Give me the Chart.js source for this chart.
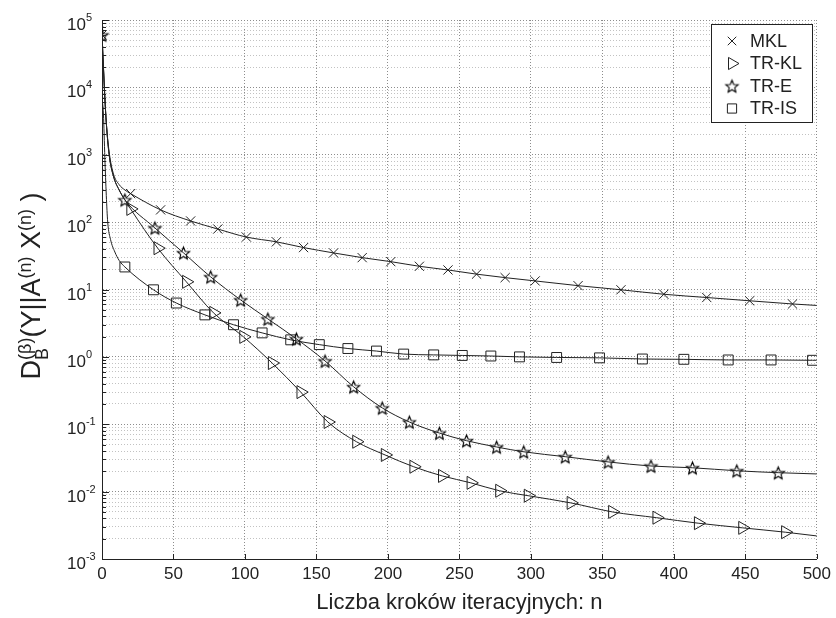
<!DOCTYPE html>
<html lang="pl">
<head>
<meta charset="UTF-8">
<title>Zbieżność algorytmów: MKL, TR-KL, TR-E, TR-IS</title>
<script src="https://cdn.jsdelivr.net/npm/chart.js"></script>
<style>
  html, body { margin: 0; background: #fff; }
  canvas { display: block; }
</style>
</head>
<body>
<canvas id="chart" width="836" height="618"></canvas>
<script>
// ---- values ----
const lastN = 500;

// MKL (x markers)
const mklHeadN = [1, 2, 3, 5, 8, 12, 16];
const mklHeadY = [20000, 7000, 3000, 1100, 520, 360, 300];
const mklN = [0, 20, 41, 62, 81, 101, 122, 141, 162, 182, 202, 222, 242, 262, 282, 303, 333, 363, 393, 423, 453, 483];
const mklY = [60000, 265, 152, 104, 79, 60, 51, 41.9, 34.9, 29.7, 25.9, 22.1, 19.5, 16.9, 15.0, 13.4, 11.4, 9.9, 8.5, 7.6, 6.8, 6.1];
const mklLast = 5.8;

// TR-KL (right triangles)
const klHeadN = [0, 1, 2, 3, 5, 8, 12, 16];
const klHeadY = [60000, 20000, 7000, 3000, 1000, 480, 300, 215];
const klN = [20, 39, 59, 78, 99, 119, 139, 158, 178, 198, 218, 238, 258, 278, 298, 328, 357, 388, 417, 448, 478];
const klY = [157, 41, 13, 4.5, 1.98, 0.81, 0.30, 0.108, 0.055, 0.035, 0.0234, 0.0171, 0.0135, 0.0103, 0.0087, 0.0068, 0.0050, 0.0041, 0.0034, 0.0029, 0.0025];
const klLast = 0.0022;

// TR-E (pentagrams)
const eHeadN = [1, 2, 3, 5, 8, 12];
const eHeadY = [20000, 7000, 3000, 1000, 480, 300];
const eN = [0, 16, 37, 57, 76, 97, 116, 136, 156, 176, 196, 215, 236, 255, 276, 295, 324, 354, 384, 413, 444, 473];
const eY = [60000, 214, 82, 35, 15.4, 7.0, 3.66, 1.85, 0.87, 0.36, 0.175, 0.108, 0.074, 0.057, 0.046, 0.039, 0.033, 0.0276, 0.024, 0.0226, 0.0204, 0.0191];
const eLast = 0.0183;

// TR-IS (squares)
const isHeadN = [0, 1, 2, 3, 4, 6, 9, 12];
const isHeadY = [7000, 4000, 900, 250, 100, 55, 36, 27];
const isN = [16, 36, 52, 72, 92, 112, 132, 152, 172, 192, 211, 232, 252, 272, 292, 318, 348, 378, 407, 438, 468, 497];
const isY = [21.6, 9.9, 6.3, 4.2, 3.0, 2.27, 1.79, 1.52, 1.33, 1.22, 1.1, 1.07, 1.05, 1.03, 1.0, 0.98, 0.967, 0.93, 0.92, 0.90, 0.90, 0.89];
const isLast = 0.89;

// axis ticks
const xTickValues = [0, 50, 100, 150, 200, 250, 300, 350, 400, 450, 500];
const yExponents = [-3, -2, -1, 0, 1, 2, 3, 4, 5];
const yMinorMults = [2, 3, 4, 5, 6, 7, 8, 9];

const FONT = "'Liberation Sans', Arial, Helvetica, sans-serif";
const INK = '#222';

const yTickValues = [];
yExponents.forEach(e => {
    yTickValues.push(Math.pow(10, e));
    if (e < 5) yMinorMults.forEach(m => yTickValues.push(m * Math.pow(10, e)));
});

function isPow10(v) {
    const l = Math.log10(v);
    return Math.abs(l - Math.round(l)) < 1e-9;
}

function pts(ns, ys) {
    return ns.map((n, i) => ({x: n, y: ys[i]}));
}

function byX(a, b) { return a.x - b.x; }

// pentagram marker (Chart.js 'star' is an asterisk, not this)
function pentagram(r) {
    const s = Math.ceil(2 * r + 4);
    const c = document.createElement('canvas');
    c.width = s; c.height = s;
    const g = c.getContext('2d');
    g.strokeStyle = '#000';
    g.lineWidth = 1.1;
    g.beginPath();
    for (let i = 0; i < 10; i++) {
        const rr = i % 2 ? r * 0.45 : r;
        const a = -Math.PI / 2 + i * Math.PI / 5;
        const px = s / 2 + rr * Math.cos(a), py = s / 2 + 0.8 + rr * Math.sin(a);
        if (i === 0) g.moveTo(px, py); else g.lineTo(px, py);
    }
    g.closePath();
    g.stroke();
    return c;
}

const series = [
    {name: 'MKL',   head: [mklHeadN, mklHeadY], mark: [mklN, mklY], last: mklLast, style: {pointStyle: 'crossRot', radius: 6.5, rotation: 0}},
    {name: 'TR-KL', head: [klHeadN, klHeadY],   mark: [klN, klY],   last: klLast,  style: {pointStyle: 'triangle', radius: 7.5, rotation: 90}},
    {name: 'TR-E',  head: [eHeadN, eHeadY],     mark: [eN, eY],     last: eLast,   style: {pointStyle: pentagram(6.5), radius: 6.5, rotation: 0}},
    {name: 'TR-IS', head: [isHeadN, isHeadY],   mark: [isN, isY],   last: isLast,  style: {pointStyle: 'rect', radius: 7, rotation: 0}}
];

const datasets = [];
series.forEach(s => {
    // continuous curve
    datasets.push({
        label: s.name + ' line',
        data: pts(s.head[0], s.head[1]).concat(pts(s.mark[0], s.mark[1]), [{x: lastN, y: s.last}]).sort(byX),
        borderColor: INK,
        borderWidth: 1,
        pointRadius: 0,
        fill: false,
        cubicInterpolationMode: 'monotone'
    });
    // markers
    datasets.push({
        label: s.name,
        data: pts(s.mark[0], s.mark[1]),
        showLine: false,
        pointStyle: s.style.pointStyle,
        pointRadius: s.style.radius,
        pointRotation: s.style.rotation,
        pointBorderColor: INK,
        pointBackgroundColor: 'rgba(0,0,0,0)',
        pointBorderWidth: 1
    });
});

// y tick labels with exponents, y title with sub/superscripts, inward ticks, legend
const extras = {
    id: 'extras',
    afterDraw(chart) {
        const ctx = chart.ctx;
        const {left, bottom} = chart.chartArea;
        const xs = chart.scales.x, ys = chart.scales.y;
        ctx.save();

        // inward tick marks
        ctx.strokeStyle = INK;
        ctx.lineWidth = 1;
        ctx.beginPath();
        yTickValues.forEach(v => {
            const y = Math.round(ys.getPixelForValue(v)) + 0.5;
            ctx.moveTo(left, y);
            ctx.lineTo(left + (isPow10(v) ? 7 : 4), y);
        });
        xTickValues.forEach(v => {
            const x = Math.round(xs.getPixelForValue(v)) + 0.5;
            ctx.moveTo(x, bottom);
            ctx.lineTo(x, bottom - 5);
        });
        ctx.stroke();

        // y tick labels: 10^e
        ctx.fillStyle = INK;
        ctx.textAlign = 'left';
        ctx.textBaseline = 'alphabetic';
        yExponents.forEach(e => {
            const y = ys.getPixelForValue(Math.pow(10, e));
            ctx.font = '17px ' + FONT;
            ctx.fillText('10', 67, y + 10);
            const w = ctx.measureText('10').width;
            ctx.font = '11px ' + FONT;
            ctx.fillText(String(e), 67 + w, y + 1);
        });

        // y title: D_B^(β)(Y||A^(n) X^(n) )
        const big = '27px ' + FONT, small = '18px ' + FONT;
        const parts = [
            [{t: 'D', f: big, dy: 0}],
            [{t: '(β)', f: small, dy: -9}, {t: 'B', f: small, dy: 8}],
            [{t: '(Y||A', f: big, dy: 0}],
            [{t: '(n)', f: small, dy: -9}],
            [{t: ' X', f: big, dy: 0}],
            [{t: '(n)', f: small, dy: -9}],
            [{t: ' )', f: big, dy: 0}]
        ];
        let total = 0;
        parts.forEach(p => {
            p.w = Math.max(...p.map(q => { ctx.font = q.f; return ctx.measureText(q.t).width; }));
            total += p.w;
        });
        ctx.translate(40, 286);
        ctx.rotate(-Math.PI / 2);
        let u = -total / 2;
        parts.forEach(p => {
            p.forEach(q => { ctx.font = q.f; ctx.fillText(q.t, u, q.dy); });
            u += p.w;
        });
        ctx.setTransform(1, 0, 0, 1, 0, 0);

        // legend
        const bx = 711, by = 24, bw = 101, bh = 98;
        ctx.fillStyle = '#fff';
        ctx.fillRect(bx, by, bw, bh);
        ctx.strokeStyle = INK;
        ctx.strokeRect(bx + 0.5, by + 0.5, bw, bh);
        series.forEach((s, i) => {
            const y = 41 + i * 22.5;
            ctx.strokeStyle = INK;
            ctx.fillStyle = 'rgba(0,0,0,0)';
            ctx.lineWidth = 1;
            Chart.helpers.drawPoint(ctx, {pointStyle: s.style.pointStyle, rotation: s.style.rotation, radius: s.style.radius - 0.5, borderWidth: 1}, 732, y);
            ctx.fillStyle = INK;
            ctx.font = '18px ' + FONT;
            ctx.textBaseline = 'middle';
            ctx.fillText(s.name, 750, y + 1);
        });
        ctx.restore();
    }
};

Chart.defaults.font.family = FONT;
Chart.defaults.color = INK;

new Chart(document.getElementById('chart'), {
    type: 'line',
    data: {datasets},
    options: {
        responsive: false,
        animation: false,
        events: [],
        layout: {padding: {top: 20, right: 19, left: 0, bottom: 0}},
        plugins: {legend: {display: false}, tooltip: {enabled: false}},
        scales: {
            x: {
                type: 'linear',
                min: 0,
                max: lastN,
                afterBuildTicks: s => { s.ticks = xTickValues.map(v => ({value: v})); },
                afterFit: s => { s.height = 59; },
                ticks: {font: {size: 17}, color: INK, padding: 5, maxRotation: 0, autoSkip: false},
                grid: {color: '#8c8c8c', lineWidth: 1, drawTicks: false},
                border: {color: INK, width: 1, dash: [1, 2]},
                title: {display: true, text: 'Liczba kroków iteracyjnych: n', font: {size: 22, lineHeight: 1}, color: INK, padding: 4}
            },
            y: {
                type: 'logarithmic',
                min: 1e-3,
                max: 1e5,
                afterBuildTicks: s => { s.ticks = yTickValues.map(v => ({value: v})); },
                afterFit: s => { s.width = 102; },
                ticks: {callback: () => '', autoSkip: false},
                grid: {
                    color: c => (c.tick && isPow10(c.tick.value)) ? '#8c8c8c' : '#c2c2c2',
                    lineWidth: 1,
                    drawTicks: false
                },
                border: {color: INK, width: 1, dash: [1, 2]}
            }
        }
    },
    plugins: [extras]
});
</script>
</body>
</html>
